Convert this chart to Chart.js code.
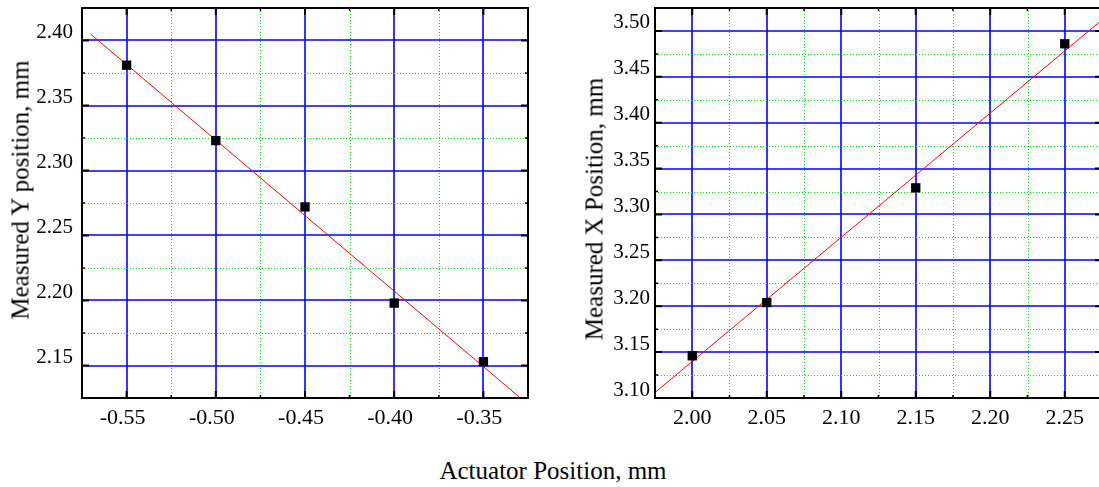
<!DOCTYPE html>
<html>
<head>
<meta charset="utf-8">
<script src="https://cdn.jsdelivr.net/npm/chart.js@4"></script>
<style>
    html,
    body {
        margin: 0;
        padding: 0;
        width: 1099px;
        height: 487px;
        overflow: hidden;
        background: #fff;
        font-family: "Liberation Serif", "Times New Roman", serif;
    }
    .box {
        position: absolute;
        top: 0;
        height: 440px;
    }
    #left-box {
        left: 0;
        width: 550px;
    }
    #right-box {
        left: 560px;
        width: 562px;
    }
    .title {
        position: absolute;
        font-size: 25px;
        line-height: 1;
        white-space: nowrap;
        color: #000;
        transform: translate(-50%, -50%);
    }
    .title.rot {
        transform: translate(-50%, -50%) rotate(-90deg);
    }
</style>
</head>
<body>
<div class="box" id="left-box"><canvas id="chart-left"></canvas></div>
<div class="box" id="right-box"><canvas id="chart-right"></canvas></div>
<div class="title rot" style="left: 20px; top: 190px">Measured Y position, mm</div>
<div class="title rot" style="left: 594px; top: 209px">Measured X Position, mm</div>
<div class="title" style="left: 553px; top: 470px">Actuator Position, mm</div>

<script>
// Left panel: actuator vs measured Y
const leftActuator = [-0.55, -0.5, -0.45, -0.4, -0.35];
const leftMeasured = [2.381, 2.323, 2.272, 2.198, 2.153];
const leftFitX = [-0.5702, -0.3297];
const leftFitY = [2.405, 2.1255];
const leftXLabels = ["-0.55", "-0.50", "-0.45", "-0.40", "-0.35"];
const leftYLabels = ["2.15", "2.20", "2.25", "2.30", "2.35", "2.40"];

// Right panel: actuator vs measured X
const rightActuator = [2.0, 2.05, 2.15, 2.25];
const rightMeasured = [3.146, 3.204, 3.329, 3.486];
const rightFitX = [1.975, 2.275];
const rightFitY = [3.106, 3.512];
const rightXLabels = ["2.00", "2.05", "2.10", "2.15", "2.20", "2.25"];
const rightYLabels = ["3.10", "3.15", "3.20", "3.25", "3.30", "3.35", "3.40", "3.45", "3.50"];

const serif = "Liberation Serif";
Chart.defaults.font.family = serif;
Chart.defaults.font.size = 20;
Chart.defaults.color = "#000";

let isMajor = function (v) {
    return Math.abs(Math.round(v / 0.05) * 0.05 - v) < 1e-6;
};

// blue solid major grid, green dotted minor grid
const gridPlugin = {
    id: "plotGrid",
    beforeDatasetsDraw(chart) {
        const { ctx, chartArea: a, scales } = chart;
        ctx.save();
        scales.x.ticks.forEach(function (t) {
            const major = isMajor(t.value);
            const px = Math.round(scales.x.getPixelForValue(t.value)) + (major ? 0 : 0.5);
            ctx.lineWidth = major ? 1.6 : 1;
            ctx.strokeStyle = major ? "#0000ff" : "#00ee00";
            ctx.setLineDash(major ? [] : [1, 2]);
            ctx.beginPath();
            ctx.moveTo(px, a.top);
            ctx.lineTo(px, a.bottom);
            ctx.stroke();
        });
        scales.y.ticks.forEach(function (t) {
            const major = isMajor(t.value);
            const py = Math.round(scales.y.getPixelForValue(t.value)) + (major ? 0 : 0.5);
            ctx.lineWidth = major ? 1.6 : 1;
            ctx.strokeStyle = major ? "#0000ff" : "#00ee00";
            ctx.setLineDash(major ? [] : [1, 2]);
            ctx.beginPath();
            ctx.moveTo(a.left, py);
            ctx.lineTo(a.right, py);
            ctx.stroke();
        });
        ctx.restore();
    },
};

// frame + inward tick marks on all four sides
const framePlugin = {
    id: "frame",
    afterDraw(chart) {
        const { ctx, chartArea: a, scales } = chart;
        ctx.save();
        ctx.strokeStyle = "#000";
        scales.x.ticks.forEach(function (t) {
            const px = scales.x.getPixelForValue(t.value);
            const len = isMajor(t.value) ? 7 : 3;
            ctx.lineWidth = isMajor(t.value) ? 2 : 1.5;
            ctx.beginPath();
            ctx.moveTo(px, a.bottom);
            ctx.lineTo(px, a.bottom - len);
            ctx.moveTo(px, a.top);
            ctx.lineTo(px, a.top + len);
            ctx.stroke();
        });
        scales.y.ticks.forEach(function (t) {
            const py = scales.y.getPixelForValue(t.value);
            const len = isMajor(t.value) ? 7 : 3;
            ctx.lineWidth = isMajor(t.value) ? 2 : 1.5;
            ctx.beginPath();
            ctx.moveTo(a.left, py);
            ctx.lineTo(a.left + len, py);
            ctx.moveTo(a.right, py);
            ctx.lineTo(a.right - len, py);
            ctx.stroke();
        });
        ctx.lineWidth = 2;
        ctx.strokeRect(a.left, a.top, a.right - a.left, a.bottom - a.top);
        ctx.restore();
    },
};

let makeAxis = function (min, max, labels, width, offset, pad, size) {
    return {
        type: "linear",
        min: min,
        max: max,
        border: { display: false },
        grid: { display: false, drawTicks: false },
        ticks: {
            stepSize: 0.025,
            maxTicksLimit: 60,
            autoSkip: false,
            maxRotation: 0,
            padding: pad,
            labelOffset: offset,
            color: "#000",
            font: { family: serif, size: size },
            callback: function (v) {
                const s = Number(v).toFixed(2);
                return labels.includes(s) && isMajor(v) ? s : "";
            },
        },
        afterFit: function (s) {
            if (s.isHorizontal()) {
                s.height = width;
                s.paddingLeft = 0;
                s.paddingRight = 0;
            } else {
                s.width = width;
                s.paddingTop = 0;
                s.paddingBottom = 0;
            }
        },
    };
};

let makeChart = function (id, xs, ys, fitX, fitY, xAxis, yAxis, padRight) {
    return new Chart(id, {
        type: "scatter",
        data: {
            datasets: [
                {
                    label: "measured",
                    data: xs.map(function (x, i) {
                        return { x: x, y: ys[i] };
                    }),
                    pointStyle: "rect",
                    pointRadius: 6.6,
                    backgroundColor: "#000",
                    borderColor: "#000",
                    borderWidth: 0,
                    order: 1,
                },
                {
                    label: "fit",
                    data: fitX.map(function (x, i) {
                        return { x: x, y: fitY[i] };
                    }),
                    showLine: true,
                    borderColor: "#ff0000",
                    borderWidth: 1,
                    pointRadius: 0,
                    order: 2,
                },
            ],
        },
        options: {
            responsive: true,
            maintainAspectRatio: false,
            animation: false,
            devicePixelRatio: 1,
            layout: { padding: { top: 8, right: padRight, left: 0, bottom: 0 } },
            plugins: {
                legend: { display: false },
                tooltip: { enabled: false },
            },
            scales: { x: xAxis, y: yAxis },
        },
        plugins: [gridPlugin, framePlugin],
    });
};

makeChart(
    "chart-left",
    leftActuator,
    leftMeasured,
    leftFitX,
    leftFitY,
    makeAxis(-0.575, -0.325, leftXLabels, 42, -4, 7, 22),
    makeAxis(2.125, 2.425, leftYLabels, 82, -8, 9, 21),
    22
);

makeChart(
    "chart-right",
    rightActuator,
    rightMeasured,
    rightFitX,
    rightFitY,
    makeAxis(1.975, 2.275, rightXLabels, 42, 0, 7, 22),
    makeAxis(3.1, 3.525, rightYLabels, 95, -8, 5, 21),
    20
);
</script>
</body>
</html>
